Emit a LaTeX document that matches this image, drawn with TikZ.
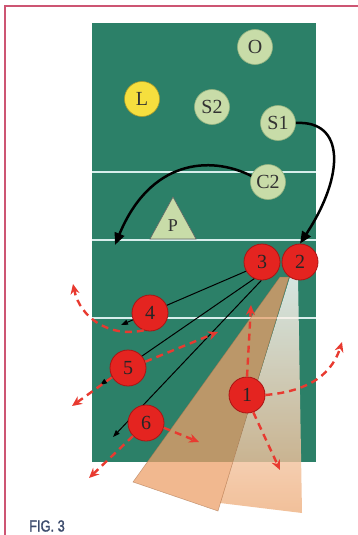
\documentclass[tikz,border=0pt]{standalone}
\usepackage{fontspec}
\setmainfont{Liberation Serif}
\newfontfamily\figfont[FakeStretch=0.8, FakeBold=1.5]{Liberation Sans}
\usetikzlibrary{arrows.meta}

\definecolor{court}{RGB}{44,128,104}
\definecolor{netline}{RGB}{215,238,236}
\definecolor{pale}{RGB}{200,220,168}
\definecolor{paleline}{RGB}{150,180,130}
\definecolor{libero}{RGB}{246,223,62}
\definecolor{redfill}{RGB}{228,36,32}
\definecolor{redline}{RGB}{170,20,20}
\definecolor{runred}{RGB}{232,58,48}
\definecolor{fandark}{RGB}{236,160,106}
\definecolor{fanlight}{RGB}{238,176,128}
\definecolor{frame}{RGB}{205,85,115}
\definecolor{figblue}{RGB}{59,74,107}

\begin{document}
\begin{tikzpicture}[x=1pt, y=-1pt,
  redplayer/.style={circle, draw=redline, line width=0.8pt, fill=redfill, minimum size=36pt, inner sep=0pt, font=\fontsize{20}{20}\selectfont, text=black!85},
  greenplayer/.style={circle, draw=paleline, line width=0.6pt, fill=pale, minimum size=35pt, inner sep=0pt, font=\fontsize{20}{20}\selectfont, text=black!80},
  move/.style={-{Triangle[length=12pt,width=10pt]}, line width=2.5pt},
  hit/.style={-{Triangle[length=7pt,width=5pt]}, line width=1pt},
  run/.style={draw=runred, line width=2.4pt, dash pattern=on 7pt off 5pt, -{Stealth[open,length=10pt,width=9pt,line width=2pt]}}
]
\useasboundingbox (0,0) rectangle (358,535);

% frame and court
\draw[frame, line width=1.8pt] (358,6) -- (5,6) -- (5,535);
\fill[court] (92,23) rectangle (316,462);
\foreach \y in {172,240,318}
  \draw[netline, line width=1.8pt] (92,\y) -- (316,\y);

% blocking fans
\shade[top color=white, bottom color=fanlight, fill opacity=0.8]
  (290,277) -- (220,503) -- (302,513) -- (298,277) -- cycle;
\filldraw[fill=fandark, draw=fandark!70!black, line width=0.5pt, fill opacity=0.75, draw opacity=0.6]
  (280,277) -- (133,482) -- (218,511) -- (289,277) -- cycle;

% opponents
\node[greenplayer] (O) at (255,47) {O};
\node[greenplayer, fill=libero, draw=libero!70!black] (L) at (142,99) {L};
\node[greenplayer] (S2) at (212,107) {S2};
\node[greenplayer] (S1) at (278,123) {S1};
\node[greenplayer] (C2) at (268,182) {C2};
\filldraw[fill=pale, draw=black!60, line width=0.6pt] (150,239) -- (173,197) -- (196,239) -- cycle;
\node[font=\fontsize{18}{18}\selectfont, text=black!80] (P) at (173,226) {P};

% defenders
\node[redplayer] (p3) at (262,262) {3};
\node[redplayer] (p2) at (300,262) {2};

\coordinate (h4) at (121,325);
\coordinate (h5) at (100,385);
\coordinate (h6) at (113,437);
\draw[hit] (p3.210) -- (h4);
\draw[hit] (p3.245) -- (h5);
\draw[hit] (p3.268) -- (h6);

\node[redplayer] (p4) at (150,313) {4};
\node[redplayer] (p5) at (128,368) {5};
\node[redplayer] (p1) at (247,395) {1};
\node[redplayer] (p6) at (146,423) {6};

% movements
\draw[move] (S1.east) .. controls (345,120) and (345,175) .. (p2.north);
\coordinate (c2end) at (115,245);
\draw[move] (C2.160) .. controls (210,155) and (150,160) .. (c2end);

\coordinate (u1) at (251,305);
\coordinate (r1) at (342,342);
\coordinate (d1) at (280,470);
\coordinate (u4) at (73,284);
\coordinate (r5) at (218,332);
\coordinate (l5) at (72,406);
\coordinate (r6) at (199,442);
\coordinate (l6) at (89,478);
\draw[run] (p1.north) -- (u1);
\draw[run] (p1.east) .. controls (300,392) and (330,380) .. (r1);
\draw[run] (p1.290) -- (d1);
\draw[run] (p4.250) .. controls (110,338) and (80,318) .. (u4);
\draw[run] (p5.20) -- (r5);
\draw[run] (p5.210) -- (l5);
\draw[run] (p6.345) -- (r6);
\draw[run] (p6.225) -- (l6);

\node[font=\figfont\fontsize{16}{16}\selectfont, text=figblue] (fig) at (47,526) {FIG. 3};
\end{tikzpicture}
\end{document}
